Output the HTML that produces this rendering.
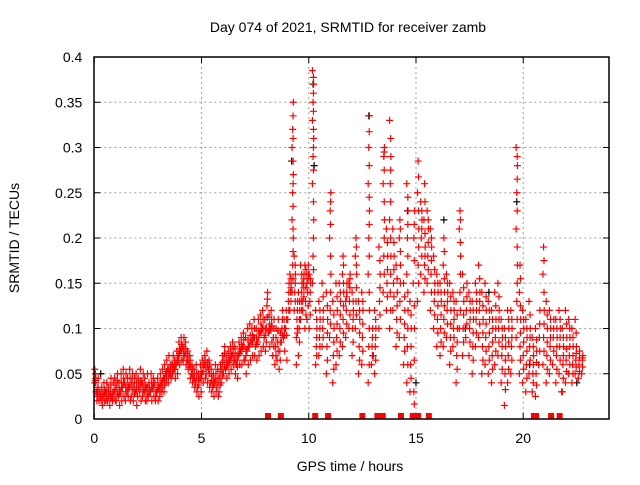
<!DOCTYPE html>
<html><head><meta charset="utf-8">
<style>
html,body{margin:0;padding:0;background:#fff;}
svg text{font-family:"Liberation Sans",sans-serif;}
</style></head>
<body>
<svg id="chart" width="640" height="480" viewBox="0 0 640 480" xmlns="http://www.w3.org/2000/svg">
<rect width="640" height="480" fill="#fff"/>
<text x="348" y="32" font-size="14" text-anchor="middle">Day 074 of 2021, SRMTID for receiver zamb</text>
<text x="350" y="471" font-size="14" text-anchor="middle">GPS time / hours</text>
<text transform="translate(19,238) rotate(-90)" font-size="14" text-anchor="middle">SRMTID / TECUs</text>
<g id="grid"></g>
<g id="ticks"></g>
<g id="black"></g>
<g id="red"></g>
<rect x="94" y="57" width="515" height="362" fill="none" stroke="#000" stroke-width="1.5"/>
</svg>
<script>
const xTicks=[0,5,10,15,20];
const yTicks=[0,0.05,0.1,0.15,0.2,0.25,0.3,0.35,0.4];
const yTickLabels=["0","0.05","0.1","0.15","0.2","0.25","0.3","0.35","0.4"];
const hours=[0.05,0.15,0.25,0.35,0.45,0.55,0.65,0.75,0.85,0.95,1.05,1.15,1.25,1.35,1.45,1.55,1.65,1.75,1.85,1.95,2.05,2.15,2.25,2.35,2.45,2.55,2.65,2.75,2.85,2.95,3.05,3.15,3.25,3.35,3.45,3.55,3.65,3.75,3.85,3.95,4.05,4.15,4.25,4.35,4.45,4.55,4.65,4.75,4.85,4.95,5.05,5.15,5.25,5.35,5.45,5.55,5.65,5.75,5.85,5.95,6.05,6.15,6.25,6.35,6.45,6.55,6.65,6.75,6.85,6.95,7.05,7.15,7.25,7.35,7.45,7.55,7.65,7.75,7.85,7.95,8.05,8.15,8.25,8.35,8.45,8.55,8.65,8.75,8.85,8.95,9.05,9.15,9.25,9.35,9.45,9.55,9.65,9.75,9.85,9.95,10.05,
10.2,10.35,10.5,10.65,10.85,11.0,11.15,11.3,11.45,11.6,11.75,11.9,12.05,12.2,12.35,12.5,12.8,12.95,13.1,13.3,13.5,13.65,13.8,13.95,14.1,14.25,14.45,14.6,14.75,14.9,15.1,15.25,15.4,15.55,15.7,15.85,16.0,16.15,16.3,16.45,16.6,16.75,16.9,17.05,17.2,17.35,17.5,17.65,17.8,17.95,18.1,18.25,18.4,18.55,18.7,18.85,19.0,19.15,19.3,19.45,19.7,19.85,20.0,20.15,20.3,20.45,20.6,20.75,20.95,21.1,21.25,21.4,21.55,21.7,21.85,22.0,22.15,22.3,22.45,22.6,22.75];
const tecu=[
[0.04,0.05,0.03,0.055],[0.03,0.025,0.045,0.02],[0.02,0.03,0.025],[0.02,0.035,0.015],[0.025,0.04,0.02],[0.03,0.02,0.04],[0.02,0.035,0.025],[0.015,0.03,0.045],[0.025,0.02,0.04],[0.03,0.045,0.02],
[0.02,0.035,0.05],[0.025,0.04,0.015],[0.03,0.05,0.02],[0.035,0.055,0.025],[0.04,0.02,0.05],[0.03,0.045,0.025],[0.035,0.055,0.02],[0.025,0.04,0.05],[0.02,0.035,0.045],[0.03,0.05,0.015],
[0.025,0.045,0.035],[0.03,0.055,0.02],[0.04,0.025,0.05],[0.03,0.045,0.02],[0.035,0.02,0.05],[0.025,0.04,0.03],[0.03,0.05,0.02],[0.035,0.045,0.025],[0.04,0.02,0.03],[0.03,0.045,0.02],
[0.035,0.025,0.05],[0.04,0.03,0.055],[0.045,0.03,0.06],[0.05,0.04,0.065],[0.055,0.04,0.07],[0.05,0.06,0.045],[0.06,0.05,0.07],[0.055,0.065,0.045],[0.06,0.075,0.05],[0.07,0.085,0.06],
[0.075,0.09,0.065],[0.08,0.065,0.09],[0.07,0.085,0.06],[0.065,0.075,0.055],[0.06,0.07,0.045],[0.05,0.06,0.04],[0.045,0.055,0.035],[0.04,0.06,0.03],[0.035,0.05,0.025],[0.045,0.06,0.03],
[0.05,0.065,0.04],[0.06,0.07,0.045],[0.05,0.075,0.04],[0.055,0.065,0.035],[0.04,0.055,0.03],[0.035,0.05,0.025],[0.04,0.06,0.03],[0.035,0.055,0.025],[0.03,0.045,0.06],[0.04,0.055,0.07],
[0.05,0.065,0.08],[0.055,0.07,0.045],[0.06,0.075,0.05],[0.065,0.08,0.055],[0.07,0.085,0.06],[0.065,0.08,0.05],[0.06,0.07,0.045],[0.07,0.085,0.06],[0.075,0.09,0.06],[0.08,0.095,0.065],
[0.065,0.09,0.05],[0.075,0.1,0.06],[0.08,0.105,0.065],[0.085,0.1,0.07],[0.09,0.11,0.07],[0.08,0.1,0.065],[0.085,0.11,0.07],[0.095,0.115,0.075],[0.1,0.12,0.08],[0.09,0.11,0.075],
[0.1,0.125,0.14,0.085],[0.095,0.115,0.08],[0.1,0.12,0.085],[0.07,0.09,0.11],[0.06,0.08,0.1],[0.065,0.085,0.11],[0.055,0.075,0.095],[0.085,0.1,0.12],[0.09,0.11,0.075],[0.1,0.12,0.065],
[0.11,0.13,0.15],[0.12,0.14,0.15,0.16],[0.14,0.17,0.2,0.22,0.25,0.27,0.3,0.32,0.35],[0.12,0.14,0.16,0.18],[0.09,0.11,0.13,0.06],[0.07,0.1,0.12,0.14],[0.11,0.13,0.15,0.17],[0.12,0.15,0.16,0.13],[0.1,0.13,0.16,0.17],[0.11,0.14,0.17,0.15],
[0.1,0.13,0.15,0.16],
[0.15,0.18,0.22,0.26,0.29,0.31,0.33,0.35,0.37,0.385],[0.06,0.08,0.1,0.12],[0.07,0.09,0.11,0.13],[0.08,0.1,0.12,0.15],[0.05,0.08,0.11,0.14],[0.09,0.12,0.16,0.2,0.23,0.25],[0.04,0.07,0.1,0.13],[0.06,0.09,0.12,0.15],[0.07,0.1,0.13,0.15],[0.08,0.11,0.14,0.16,0.18],
[0.09,0.12,0.15,0.13],[0.1,0.13,0.16,0.15],[0.07,0.1,0.12,0.14],[0.1,0.13,0.16,0.18,0.2],[0.05,0.08,0.11,0.13],[0.06,0.09,0.12,0.14],[0.04,0.08,0.12,0.16,0.2,0.23,0.26,0.3,0.335],[0.06,0.08,0.1],[0.05,0.08,0.1,0.12],[0.1,0.13,0.16,0.19],
[0.14,0.18,0.22,0.26,0.29,0.3],[0.12,0.15,0.18,0.21],[0.1,0.14,0.18,0.22,0.26,0.29,0.33],[0.12,0.15,0.18,0.21],[0.08,0.11,0.14,0.17],[0.09,0.13,0.17,0.2,0.22],[0.06,0.09,0.12,0.15],[0.04,0.08,0.12,0.16,0.2,0.23,0.26],[0.03,0.06,0.1,0.13],[0.003,0.03,0.1,0.15,0.2,0.23],
[0.13,0.17,0.21,0.25,0.285],[0.16,0.2,0.22,0.24],[0.14,0.17,0.19,0.22,0.26],[0.15,0.18,0.21,0.23],[0.12,0.16,0.19,0.21],[0.1,0.13,0.15,0.18],[0.08,0.11,0.14,0.16],[0.07,0.1,0.13,0.15],[0.08,0.11,0.14,0.17,0.2],[0.09,0.12,0.14,0.16],
[0.06,0.09,0.12,0.15],[0.08,0.1,0.12,0.14],[0.04,0.07,0.1,0.13],[0.1,0.14,0.18,0.21,0.23],[0.07,0.1,0.13,0.16],[0.09,0.12,0.15],[0.07,0.1,0.12,0.14],[0.05,0.08,0.11,0.13],[0.08,0.11,0.13,0.15],[0.09,0.12,0.14,0.17],
[0.05,0.08,0.11,0.14],[0.06,0.09,0.12,0.15],[0.05,0.08,0.11,0.13],[0.04,0.07,0.1,0.12],[0.06,0.09,0.11,0.14],[0.07,0.1,0.12,0.15],[0.04,0.07,0.09,0.11],[0.015,0.05,0.08,0.1],[0.04,0.07,0.1,0.12],[0.05,0.08,0.1,0.12],
[0.09,0.13,0.17,0.21,0.25,0.28,0.3],[0.05,0.08,0.11,0.14,0.17],[0.04,0.07,0.1,0.12],[0.03,0.06,0.09,0.11],[0.05,0.08,0.1,0.13],[0.03,0.05,0.07,0.09],[0.025,0.05,0.075,0.1],[0.06,0.09,0.12],[0.06,0.09,0.12,0.16,0.19],[0.04,0.07,0.1,0.13],
[0.05,0.08,0.1,0.12],[0.06,0.09,0.11],[0.04,0.07,0.09,0.11],[0.05,0.08,0.1,0.12],[0.03,0.06,0.08,0.1],[0.04,0.065,0.09,0.12],[0.05,0.07,0.09,0.11],[0.04,0.06,0.08,0.1],[0.05,0.065,0.08,0.11],[0.045,0.06,0.075],[0.05,0.065,0.07]
];
const blackHours=[0.3,1.2,2.6,3.9,5.6,7.2,9.2,10.2,10.25,12.8,13.0,14.6,15.0,16.3,17.3,18.4,19.7,20.3,21.8,22.5];
const blackTecu=[0.05,0.03,0.03,0.065,0.04,0.08,0.285,0.37,0.28,0.335,0.07,0.23,0.04,0.22,0.1,0.14,0.24,0.06,0.03,0.04];
const zeroHours=[8.1,8.7,10.3,10.9,12.5,13.2,13.35,13.45,14.3,14.85,15.0,15.1,15.6,20.5,20.6,21.3,21.7];
const X0=94.3,X1=609,Y0=419,Y1=57,XMAX=24,YMAX=0.4;
function sx(h){return X0+(X1-X0)*h/XMAX;}
function sy(v){return Y0-(Y0-Y1)*v/YMAX;}
const NS="http://www.w3.org/2000/svg";
function mk(tag,attrs,parent){const e=document.createElementNS(NS,tag);for(const k in attrs)e.setAttribute(k,attrs[k]);parent.appendChild(e);return e;}
const grid=document.getElementById('grid'),ticks=document.getElementById('ticks');
xTicks.forEach(t=>{const x=sx(t);
 if(t>0){const g=mk('line',{x1:x,x2:x,y1:Y1,y2:Y0,stroke:'#a0a0a0','stroke-dasharray':'2,3','stroke-width':1},grid);
 
 }
 mk('line',{x1:x,x2:x,y1:Y0,y2:Y0-6,stroke:'#000'},ticks);
 mk('line',{x1:x,x2:x,y1:Y1,y2:Y1+6,stroke:'#000'},ticks);
 const tl=mk('text',{x:x,y:Y0+24,'font-size':14,'text-anchor':'middle'},ticks);tl.textContent=t;
 
 
});
yTicks.forEach((t,i)=>{const y=sy(t);
 if(t>0&&t<YMAX){const g=mk('line',{x1:X0,x2:X1,y1:y,y2:y,stroke:'#a0a0a0','stroke-dasharray':'2,3','stroke-width':1},grid);
 
 }
 mk('line',{x1:X0,x2:X0+6,y1:y,y2:y,stroke:'#000'},ticks);
 mk('line',{x1:X1,x2:X1-6,y1:y,y2:y,stroke:'#000'},ticks);
 const tl=mk('text',{x:X0-12,y:y+5,'font-size':14,'text-anchor':'end'},ticks);tl.textContent=yTickLabels[i];
 
 
});
function plus(parent,h,v,col){const x=sx(h),y=sy(v);
 const p=mk('path',{d:`M${x-3.5},${y}H${x+3.5}M${x},${y-3.5}V${y+3.5}`,stroke:col,'stroke-width':1.2,fill:'none'},parent);
 
 }
const red=document.getElementById('red'),black=document.getElementById('black');
blackHours.forEach((h,i)=>plus(black,h,blackTecu[i],'#000'));
hours.forEach((h,i)=>{const vals=tecu[i]||[];vals.forEach((v,j)=>{
 plus(red,h+(j%3-1)*0.03,v,'#f00');
 if(j<vals.length-1){const v2=(v+vals[j+1])/2;plus(red,h+0.02,v2,'#f00');}
});});
zeroHours.forEach(h=>{const r=mk('rect',{x:sx(h)-3,y:Y0-6,width:6,height:6,fill:'#f00'},red);
 
 });
</script>
</body></html>
